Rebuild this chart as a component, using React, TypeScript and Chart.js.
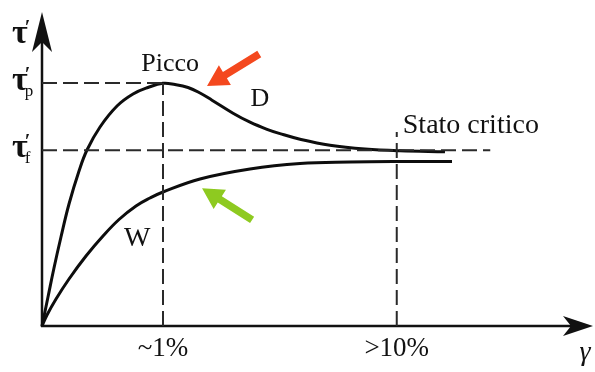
import React, { useEffect, useRef } from 'react';
import { Chart, registerables } from 'chart.js';

Chart.register(...registerables);

// Curve D (dense soil, with peak) — gamma (arbitrary units) vs tau'
const dGamma = [0, 1.09, 2.18, 3.45, 4.91, 6.73, 8.18, 10.55, 13.64, 16.55, 19.27, 22.0, 24.18, 26.55, 28.73, 30.91, 34.73, 37.82, 40.91, 43.27, 46.91, 52.36, 58.73, 65.09, 73.27];
const dTau = [0, 9.24, 18.47, 28.34, 38.85, 49.36, 56.05, 63.38, 70.06, 73.89, 75.96, 77.3, 76.91, 75.96, 74.2, 71.91, 67.77, 64.9, 62.64, 61.27, 59.49, 57.58, 56.37, 55.8, 55.51];

// Curve W (loose soil, no peak)
const wGamma = [0, 0.91, 2.55, 4.91, 8.0, 11.09, 14.0, 17.09, 19.64, 22.0, 28.73, 37.82, 46.91, 56.0, 65.09, 74.55];
const wTau = [0, 3.5, 8.6, 14.97, 22.29, 28.66, 33.92, 38.22, 40.76, 42.68, 46.82, 50.0, 51.75, 52.23, 52.39, 52.39];

// Reference levels
const tauPeak = 77.4;
const tauCrit = 56.0;
const gammaPeak = 22.0;
const gammaCrit = 64.5;
const tauCritLineEnd = 81.5;
const critMarkerTop = 61.8;

// Axis tick labels
const tickValues = [gammaPeak, gammaCrit];
const tickLabels = ['~1%', '>10%'];

const FONT = "'Liberation Serif', 'DejaVu Serif', serif";

const pts = (xs: number[], ys: number[]) => xs.map((x, i) => ({ x, y: ys[i] }));

function drawArrow(ctx: CanvasRenderingContext2D, tx: number, ty: number, hx: number, hy: number, color: string) {
  const dx = hx - tx, dy = hy - ty;
  const len = Math.hypot(dx, dy);
  const ux = dx / len, uy = dy / len;
  const nx = -uy, ny = ux;
  const headLen = 21, headW = 11.5, shaftW = 3.8;
  const bx = hx - ux * headLen, by = hy - uy * headLen;
  ctx.beginPath();
  ctx.moveTo(tx + nx * shaftW, ty + ny * shaftW);
  ctx.lineTo(bx + nx * shaftW, by + ny * shaftW);
  ctx.lineTo(bx + nx * headW, by + ny * headW);
  ctx.lineTo(hx, hy);
  ctx.lineTo(bx - nx * headW, by - ny * headW);
  ctx.lineTo(bx - nx * shaftW, by - ny * shaftW);
  ctx.lineTo(tx - nx * shaftW, ty - ny * shaftW);
  ctx.closePath();
  ctx.fillStyle = color;
  ctx.fill();
}

const sketchPlugin = {
  id: 'sketch',
  beforeDatasetsDraw(chart: any) {
    const { ctx, scales } = chart;
    const xs = scales.x, ys = scales.y;
    const x0 = xs.getPixelForValue(0);
    const y0 = ys.getPixelForValue(0);
    const yTip = ys.top;
    const xTip = xs.right + 1;
    ctx.save();
    ctx.strokeStyle = '#111';
    ctx.fillStyle = '#111';
    ctx.lineWidth = 2.5;
    ctx.beginPath();
    ctx.moveTo(x0, y0 + 1);
    ctx.lineTo(x0, yTip + 25);
    ctx.stroke();
    ctx.beginPath();
    ctx.moveTo(x0 - 1, y0);
    ctx.lineTo(xTip - 18, y0);
    ctx.stroke();
    // y arrowhead
    ctx.beginPath();
    ctx.moveTo(x0, yTip);
    ctx.lineTo(x0 + 10, yTip + 40);
    ctx.lineTo(x0, yTip + 30);
    ctx.lineTo(x0 - 10, yTip + 40);
    ctx.closePath();
    ctx.fill();
    // x arrowhead
    ctx.beginPath();
    ctx.moveTo(xTip, y0);
    ctx.lineTo(xTip - 30, y0 - 10);
    ctx.lineTo(xTip - 22, y0);
    ctx.lineTo(xTip - 30, y0 + 10);
    ctx.closePath();
    ctx.fill();
    ctx.restore();
  },
  afterDatasetsDraw(chart: any) {
    const { ctx, scales } = chart;
    const xs = scales.x, ys = scales.y;
    const px = (v: number) => xs.getPixelForValue(v);
    const py = (v: number) => ys.getPixelForValue(v);
    const x0 = px(0), y0 = py(0);
    ctx.save();
    ctx.fillStyle = '#111';
    ctx.textBaseline = 'alphabetic';

    // x tick labels
    ctx.font = `27px ${FONT}`;
    ctx.textAlign = 'center';
    tickValues.forEach((v, i) => {
      ctx.fillText(tickLabels[i], px(v), y0 + 30);
    });

    // gamma axis title
    ctx.font = `italic 28px ${FONT}`;
    ctx.textAlign = 'center';
    ctx.fillText('γ', 585, y0 + 34);

    // tau labels
    const tau = (x: number, yb: number, sub: string) => {
      ctx.font = `bold 34px ${FONT}`;
      ctx.textAlign = 'left';
      ctx.fillText('τ', x, yb);
      const w = ctx.measureText('τ').width;
      ctx.font = `bold 20px ${FONT}`;
      ctx.fillText('′', x + w - 3, yb - 9);
      if (sub) {
        ctx.font = `17px ${FONT}`;
        ctx.fillText(sub, x + w - 3, yb + 6);
      }
    };
    tau(x0 - 30, ys.top + 31, '');
    tau(x0 - 30, py(tauPeak) + 7, 'p');
    tau(x0 - 30, py(tauCrit) + 7, 'f');

    // curve labels
    ctx.font = `26px ${FONT}`;
    ctx.textAlign = 'center';
    ctx.fillText('Picco', px(23.3), py(83.8) + 8);
    ctx.fillText('D', px(39.6), py(72.6) + 8);
    ctx.font = `28px ${FONT}`;
    ctx.fillText('W', px(17.3), py(28.0) + 8);
    ctx.textAlign = 'left';
    ctx.fillText('Stato critico', px(65.6), py(64.0) + 8);

    // coloured arrows
    drawArrow(ctx, px(39.5), py(86.6), px(30.0), py(76.4), 'rgb(244,72,30)');
    drawArrow(ctx, px(38.2), py(33.8), px(29.1), py(43.9), 'rgb(142,202,32)');
    ctx.restore();
  },
};

export default function App() {
  const ref = useRef<HTMLCanvasElement>(null);
  useEffect(() => {
    document.body.style.margin = '0';
    const refStyle = {
      borderColor: '#2a2a2a',
      borderWidth: 2,
      borderDash: [15, 6],
      pointRadius: 0,
      tension: 0,
      fill: false,
      clip: false as any,
    };
    const curveStyle = {
      borderColor: '#0d0d0d',
      borderWidth: 3,
      pointRadius: 0,
      tension: 0.4,
      fill: false,
      clip: false as any,
    };
    const chart = new Chart(ref.current!, {
      type: 'line',
      data: {
        datasets: [
          { label: 'tau_p', data: pts([0, gammaPeak], [tauPeak, tauPeak]), ...refStyle },
          { label: 'tau_f', data: pts([0, tauCritLineEnd], [tauCrit, tauCrit]), ...refStyle },
          { label: 'gamma_peak', data: pts([gammaPeak, gammaPeak], [0, tauPeak]), ...refStyle },
          { label: 'gamma_crit', data: pts([gammaCrit, gammaCrit], [0, critMarkerTop]), ...refStyle },
          { label: 'D', data: pts(dGamma, dTau), ...curveStyle },
          { label: 'W', data: pts(wGamma, wTau), ...curveStyle },
        ],
      },
      options: {
        responsive: false,
        animation: false,
        layout: { padding: { left: 42, right: 3, top: 12, bottom: 46 } },
        scales: {
          x: { type: 'linear', min: 0, max: 100, display: false },
          y: { type: 'linear', min: 0, max: 100, display: false },
        },
        plugins: { legend: { display: false }, tooltip: { enabled: false } },
      },
      plugins: [sketchPlugin],
    });
    return () => chart.destroy();
  }, []);
  return (
    <div style={{ position: 'absolute', left: 0, top: 0, width: 595, height: 372, background: '#fff' }}>
      <canvas ref={ref} width={595} height={372} style={{ display: 'block' }} />
    </div>
  );
}
